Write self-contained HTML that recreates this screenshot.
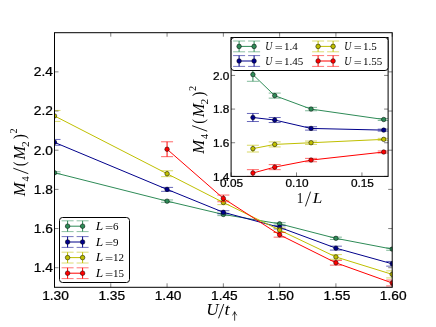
<!DOCTYPE html><html><head><meta charset="utf-8"><style>html,body{margin:0;padding:0;background:#fff}svg{display:block;will-change:transform}.s{font-family:"Liberation Sans",sans-serif;fill:#000;stroke:#000;stroke-width:0.25px}.m{font-family:"Liberation Serif",serif;fill:#000}.i{font-style:italic}</style></head><body><svg width="436" height="327" viewBox="0 0 436 327">
<rect width="436" height="327" fill="#fff"/>
<defs><clipPath id="c1"><rect x="54.5" y="32.7" width="337.7" height="254.60000000000002"/></clipPath><clipPath id="c2"><rect x="231.1" y="37.5" width="157.00000000000003" height="138.9"/></clipPath></defs>
<g clip-path="url(#c1)">
<polyline fill="none" stroke="#2e8b57" stroke-width="1" points="54.50,172.73 167.07,201.13 223.35,214.45 279.63,223.85 335.92,238.34 392.20,249.11"/>
<path d="M54.50 171.75V173.71" stroke="#2e8b57" stroke-width="1" fill="none"/>
<path d="M48.50 171.75h12M48.50 173.71h12" stroke="#2e8b57" stroke-width="0.6" fill="none"/>
<path d="M167.07 199.95V202.30" stroke="#2e8b57" stroke-width="1" fill="none"/>
<path d="M161.07 199.95h12M161.07 202.30h12" stroke="#2e8b57" stroke-width="0.6" fill="none"/>
<path d="M223.35 213.27V215.62" stroke="#2e8b57" stroke-width="1" fill="none"/>
<path d="M217.35 213.27h12M217.35 215.62h12" stroke="#2e8b57" stroke-width="0.6" fill="none"/>
<path d="M279.63 222.67V225.02" stroke="#2e8b57" stroke-width="1" fill="none"/>
<path d="M273.63 222.67h12M273.63 225.02h12" stroke="#2e8b57" stroke-width="0.6" fill="none"/>
<path d="M335.92 237.16V239.51" stroke="#2e8b57" stroke-width="1" fill="none"/>
<path d="M329.92 237.16h12M329.92 239.51h12" stroke="#2e8b57" stroke-width="0.6" fill="none"/>
<path d="M392.20 247.93V250.29" stroke="#2e8b57" stroke-width="1" fill="none"/>
<path d="M386.20 247.93h12M386.20 250.29h12" stroke="#2e8b57" stroke-width="0.6" fill="none"/>
<circle cx="54.50" cy="172.73" r="2.25" fill="#2e8b57" stroke="#000" stroke-width="0.5"/>
<circle cx="167.07" cy="201.13" r="2.25" fill="#2e8b57" stroke="#000" stroke-width="0.5"/>
<circle cx="223.35" cy="214.45" r="2.25" fill="#2e8b57" stroke="#000" stroke-width="0.5"/>
<circle cx="279.63" cy="223.85" r="2.25" fill="#2e8b57" stroke="#000" stroke-width="0.5"/>
<circle cx="335.92" cy="238.34" r="2.25" fill="#2e8b57" stroke="#000" stroke-width="0.5"/>
<circle cx="392.20" cy="249.11" r="2.25" fill="#2e8b57" stroke="#000" stroke-width="0.5"/>
</g>
<g clip-path="url(#c1)">
<polyline fill="none" stroke="#00008b" stroke-width="1" points="54.50,142.37 167.07,189.38 223.35,212.29 279.63,227.37 335.92,248.13 392.20,263.80"/>
<path d="M54.50 139.44V145.31" stroke="#00008b" stroke-width="1" fill="none"/>
<path d="M48.50 139.44h12M48.50 145.31h12" stroke="#00008b" stroke-width="0.6" fill="none"/>
<path d="M167.07 187.42V191.34" stroke="#00008b" stroke-width="1" fill="none"/>
<path d="M161.07 187.42h12M161.07 191.34h12" stroke="#00008b" stroke-width="0.6" fill="none"/>
<path d="M223.35 210.72V213.86" stroke="#00008b" stroke-width="1" fill="none"/>
<path d="M217.35 210.72h12M217.35 213.86h12" stroke="#00008b" stroke-width="0.6" fill="none"/>
<path d="M279.63 225.80V228.94" stroke="#00008b" stroke-width="1" fill="none"/>
<path d="M273.63 225.80h12M273.63 228.94h12" stroke="#00008b" stroke-width="0.6" fill="none"/>
<path d="M335.92 246.17V250.09" stroke="#00008b" stroke-width="1" fill="none"/>
<path d="M329.92 246.17h12M329.92 250.09h12" stroke="#00008b" stroke-width="0.6" fill="none"/>
<path d="M392.20 261.45V266.15" stroke="#00008b" stroke-width="1" fill="none"/>
<path d="M386.20 261.45h12M386.20 266.15h12" stroke="#00008b" stroke-width="0.6" fill="none"/>
<circle cx="54.50" cy="142.37" r="2.25" fill="#00008b" stroke="#000" stroke-width="0.5"/>
<circle cx="167.07" cy="189.38" r="2.25" fill="#00008b" stroke="#000" stroke-width="0.5"/>
<circle cx="223.35" cy="212.29" r="2.25" fill="#00008b" stroke="#000" stroke-width="0.5"/>
<circle cx="279.63" cy="227.37" r="2.25" fill="#00008b" stroke="#000" stroke-width="0.5"/>
<circle cx="335.92" cy="248.13" r="2.25" fill="#00008b" stroke="#000" stroke-width="0.5"/>
<circle cx="392.20" cy="263.80" r="2.25" fill="#00008b" stroke="#000" stroke-width="0.5"/>
</g>
<g clip-path="url(#c1)">
<polyline fill="none" stroke="#bfbf00" stroke-width="1" points="54.50,115.93 167.07,173.71 223.35,202.50 279.63,230.11 335.92,256.94 392.20,274.37"/>
<path d="M54.50 110.45V121.42" stroke="#bfbf00" stroke-width="1" fill="none"/>
<path d="M48.50 110.45h12M48.50 121.42h12" stroke="#bfbf00" stroke-width="0.6" fill="none"/>
<path d="M167.07 170.77V176.65" stroke="#bfbf00" stroke-width="1" fill="none"/>
<path d="M161.07 170.77h12M161.07 176.65h12" stroke="#bfbf00" stroke-width="0.6" fill="none"/>
<path d="M223.35 200.34V204.65" stroke="#bfbf00" stroke-width="1" fill="none"/>
<path d="M217.35 200.34h12M217.35 204.65h12" stroke="#bfbf00" stroke-width="0.6" fill="none"/>
<path d="M279.63 227.96V232.27" stroke="#bfbf00" stroke-width="1" fill="none"/>
<path d="M273.63 227.96h12M273.63 232.27h12" stroke="#bfbf00" stroke-width="0.6" fill="none"/>
<path d="M335.92 254.59V259.29" stroke="#bfbf00" stroke-width="1" fill="none"/>
<path d="M329.92 254.59h12M329.92 259.29h12" stroke="#bfbf00" stroke-width="0.6" fill="none"/>
<path d="M392.20 270.85V277.90" stroke="#bfbf00" stroke-width="1" fill="none"/>
<path d="M386.20 270.85h12M386.20 277.90h12" stroke="#bfbf00" stroke-width="0.6" fill="none"/>
<circle cx="54.50" cy="115.93" r="2.25" fill="#bfbf00" stroke="#000" stroke-width="0.5"/>
<circle cx="167.07" cy="173.71" r="2.25" fill="#bfbf00" stroke="#000" stroke-width="0.5"/>
<circle cx="223.35" cy="202.50" r="2.25" fill="#bfbf00" stroke="#000" stroke-width="0.5"/>
<circle cx="279.63" cy="230.11" r="2.25" fill="#bfbf00" stroke="#000" stroke-width="0.5"/>
<circle cx="335.92" cy="256.94" r="2.25" fill="#bfbf00" stroke="#000" stroke-width="0.5"/>
<circle cx="392.20" cy="274.37" r="2.25" fill="#bfbf00" stroke="#000" stroke-width="0.5"/>
</g>
<g clip-path="url(#c1)">
<polyline fill="none" stroke="#ff0000" stroke-width="1" points="167.07,149.23 223.35,198.39 279.63,234.81 335.92,262.82 392.20,282.99"/>
<path d="M167.07 141.79V156.67" stroke="#ff0000" stroke-width="1" fill="none"/>
<path d="M161.07 141.79h12M161.07 156.67h12" stroke="#ff0000" stroke-width="0.6" fill="none"/>
<path d="M223.35 195.06V201.72" stroke="#ff0000" stroke-width="1" fill="none"/>
<path d="M217.35 195.06h12M217.35 201.72h12" stroke="#ff0000" stroke-width="0.6" fill="none"/>
<path d="M279.63 232.46V237.16" stroke="#ff0000" stroke-width="1" fill="none"/>
<path d="M273.63 232.46h12M273.63 237.16h12" stroke="#ff0000" stroke-width="0.6" fill="none"/>
<path d="M335.92 260.47V265.17" stroke="#ff0000" stroke-width="1" fill="none"/>
<path d="M329.92 260.47h12M329.92 265.17h12" stroke="#ff0000" stroke-width="0.6" fill="none"/>
<path d="M392.20 280.05V285.93" stroke="#ff0000" stroke-width="1" fill="none"/>
<path d="M386.20 280.05h12M386.20 285.93h12" stroke="#ff0000" stroke-width="0.6" fill="none"/>
<circle cx="167.07" cy="149.23" r="2.25" fill="#ff0000" stroke="#000" stroke-width="0.5"/>
<circle cx="223.35" cy="198.39" r="2.25" fill="#ff0000" stroke="#000" stroke-width="0.5"/>
<circle cx="279.63" cy="234.81" r="2.25" fill="#ff0000" stroke="#000" stroke-width="0.5"/>
<circle cx="335.92" cy="262.82" r="2.25" fill="#ff0000" stroke="#000" stroke-width="0.5"/>
<circle cx="392.20" cy="282.99" r="2.25" fill="#ff0000" stroke="#000" stroke-width="0.5"/>
</g>
<rect x="54.5" y="32.7" width="337.7" height="254.60000000000002" fill="none" stroke="#000" stroke-width="1"/>
<path d="M54.50 287.3v-4M54.50 32.7v4" stroke="#000" stroke-width="0.5"/>
<text transform="translate(55.50,300.20) scale(1.125,1)" font-size="12.2" text-anchor="middle" class="s">1.30</text>
<path d="M110.78 287.3v-4M110.78 32.7v4" stroke="#000" stroke-width="0.5"/>
<text transform="translate(111.78,300.20) scale(1.125,1)" font-size="12.2" text-anchor="middle" class="s">1.35</text>
<path d="M167.07 287.3v-4M167.07 32.7v4" stroke="#000" stroke-width="0.5"/>
<text transform="translate(168.07,300.20) scale(1.125,1)" font-size="12.2" text-anchor="middle" class="s">1.40</text>
<path d="M223.35 287.3v-4M223.35 32.7v4" stroke="#000" stroke-width="0.5"/>
<text transform="translate(224.35,300.20) scale(1.125,1)" font-size="12.2" text-anchor="middle" class="s">1.45</text>
<path d="M279.63 287.3v-4M279.63 32.7v4" stroke="#000" stroke-width="0.5"/>
<text transform="translate(280.63,300.20) scale(1.125,1)" font-size="12.2" text-anchor="middle" class="s">1.50</text>
<path d="M335.92 287.3v-4M335.92 32.7v4" stroke="#000" stroke-width="0.5"/>
<text transform="translate(336.92,300.20) scale(1.125,1)" font-size="12.2" text-anchor="middle" class="s">1.55</text>
<path d="M392.20 287.3v-4M392.20 32.7v4" stroke="#000" stroke-width="0.5"/>
<text transform="translate(393.20,300.20) scale(1.125,1)" font-size="12.2" text-anchor="middle" class="s">1.60</text>
<path d="M54.5 267.72h4M392.2 267.72h-4" stroke="#000" stroke-width="0.5"/>
<text transform="translate(52.90,272.12) scale(1.125,1)" font-size="12.2" text-anchor="end" class="s">1.4</text>
<path d="M54.5 228.55h4M392.2 228.55h-4" stroke="#000" stroke-width="0.5"/>
<text transform="translate(52.90,232.95) scale(1.125,1)" font-size="12.2" text-anchor="end" class="s">1.6</text>
<path d="M54.5 189.38h4M392.2 189.38h-4" stroke="#000" stroke-width="0.5"/>
<text transform="translate(52.90,193.78) scale(1.125,1)" font-size="12.2" text-anchor="end" class="s">1.8</text>
<path d="M54.5 150.21h4M392.2 150.21h-4" stroke="#000" stroke-width="0.5"/>
<text transform="translate(52.90,154.61) scale(1.125,1)" font-size="12.2" text-anchor="end" class="s">2.0</text>
<path d="M54.5 111.04h4M392.2 111.04h-4" stroke="#000" stroke-width="0.5"/>
<text transform="translate(52.90,115.44) scale(1.125,1)" font-size="12.2" text-anchor="end" class="s">2.2</text>
<path d="M54.5 71.87h4M392.2 71.87h-4" stroke="#000" stroke-width="0.5"/>
<text transform="translate(52.90,76.27) scale(1.125,1)" font-size="12.2" text-anchor="end" class="s">2.4</text>
<rect x="231.1" y="37.5" width="157.00000000000003" height="138.9" fill="#fff"/>
<g clip-path="url(#c2)">
<polyline fill="none" stroke="#2e8b57" stroke-width="1" points="252.91,74.58 274.71,95.62 311.05,109.08 383.74,119.51"/>
<path d="M252.91 67.85V81.31" stroke="#2e8b57" stroke-width="1" fill="none"/>
<path d="M246.91 67.85h12M246.91 81.31h12" stroke="#2e8b57" stroke-width="0.6" fill="none"/>
<path d="M274.71 93.09V98.14" stroke="#2e8b57" stroke-width="1" fill="none"/>
<path d="M268.71 93.09h12M268.71 98.14h12" stroke="#2e8b57" stroke-width="0.6" fill="none"/>
<path d="M311.05 107.40V110.76" stroke="#2e8b57" stroke-width="1" fill="none"/>
<path d="M305.05 107.40h12M305.05 110.76h12" stroke="#2e8b57" stroke-width="0.6" fill="none"/>
<path d="M383.74 118.50V120.52" stroke="#2e8b57" stroke-width="1" fill="none"/>
<path d="M377.74 118.50h12M377.74 120.52h12" stroke="#2e8b57" stroke-width="0.6" fill="none"/>
<circle cx="252.91" cy="74.58" r="2.25" fill="#2e8b57" stroke="#000" stroke-width="0.5"/>
<circle cx="274.71" cy="95.62" r="2.25" fill="#2e8b57" stroke="#000" stroke-width="0.5"/>
<circle cx="311.05" cy="109.08" r="2.25" fill="#2e8b57" stroke="#000" stroke-width="0.5"/>
<circle cx="383.74" cy="119.51" r="2.25" fill="#2e8b57" stroke="#000" stroke-width="0.5"/>
</g>
<g clip-path="url(#c2)">
<polyline fill="none" stroke="#00008b" stroke-width="1" points="252.91,117.49 274.71,120.02 311.05,128.43 383.74,130.12"/>
<path d="M252.91 113.46V121.53" stroke="#00008b" stroke-width="1" fill="none"/>
<path d="M246.91 113.46h12M246.91 121.53h12" stroke="#00008b" stroke-width="0.6" fill="none"/>
<path d="M274.71 117.49V122.54" stroke="#00008b" stroke-width="1" fill="none"/>
<path d="M268.71 117.49h12M268.71 122.54h12" stroke="#00008b" stroke-width="0.6" fill="none"/>
<path d="M311.05 126.75V130.12" stroke="#00008b" stroke-width="1" fill="none"/>
<path d="M305.05 126.75h12M305.05 130.12h12" stroke="#00008b" stroke-width="0.6" fill="none"/>
<path d="M383.74 129.11V131.13" stroke="#00008b" stroke-width="1" fill="none"/>
<path d="M377.74 129.11h12M377.74 131.13h12" stroke="#00008b" stroke-width="0.6" fill="none"/>
<circle cx="252.91" cy="117.49" r="2.25" fill="#00008b" stroke="#000" stroke-width="0.5"/>
<circle cx="274.71" cy="120.02" r="2.25" fill="#00008b" stroke="#000" stroke-width="0.5"/>
<circle cx="311.05" cy="128.43" r="2.25" fill="#00008b" stroke="#000" stroke-width="0.5"/>
<circle cx="383.74" cy="130.12" r="2.25" fill="#00008b" stroke="#000" stroke-width="0.5"/>
</g>
<g clip-path="url(#c2)">
<polyline fill="none" stroke="#bfbf00" stroke-width="1" points="252.91,148.63 274.71,144.42 311.05,142.74 383.74,139.37"/>
<path d="M252.91 145.26V152.00" stroke="#bfbf00" stroke-width="1" fill="none"/>
<path d="M246.91 145.26h12M246.91 152.00h12" stroke="#bfbf00" stroke-width="0.6" fill="none"/>
<path d="M274.71 141.90V146.95" stroke="#bfbf00" stroke-width="1" fill="none"/>
<path d="M268.71 141.90h12M268.71 146.95h12" stroke="#bfbf00" stroke-width="0.6" fill="none"/>
<path d="M311.05 141.06V144.42" stroke="#bfbf00" stroke-width="1" fill="none"/>
<path d="M305.05 141.06h12M305.05 144.42h12" stroke="#bfbf00" stroke-width="0.6" fill="none"/>
<path d="M383.74 138.36V140.38" stroke="#bfbf00" stroke-width="1" fill="none"/>
<path d="M377.74 138.36h12M377.74 140.38h12" stroke="#bfbf00" stroke-width="0.6" fill="none"/>
<circle cx="252.91" cy="148.63" r="2.25" fill="#bfbf00" stroke="#000" stroke-width="0.5"/>
<circle cx="274.71" cy="144.42" r="2.25" fill="#bfbf00" stroke="#000" stroke-width="0.5"/>
<circle cx="311.05" cy="142.74" r="2.25" fill="#bfbf00" stroke="#000" stroke-width="0.5"/>
<circle cx="383.74" cy="139.37" r="2.25" fill="#bfbf00" stroke="#000" stroke-width="0.5"/>
</g>
<g clip-path="url(#c2)">
<polyline fill="none" stroke="#ff0000" stroke-width="1" points="252.91,173.03 274.71,167.14 311.05,160.07 383.74,152.00"/>
<path d="M252.91 169.67V176.40" stroke="#ff0000" stroke-width="1" fill="none"/>
<path d="M246.91 169.67h12M246.91 176.40h12" stroke="#ff0000" stroke-width="0.6" fill="none"/>
<path d="M274.71 164.62V169.67" stroke="#ff0000" stroke-width="1" fill="none"/>
<path d="M268.71 164.62h12M268.71 169.67h12" stroke="#ff0000" stroke-width="0.6" fill="none"/>
<path d="M311.05 158.39V161.76" stroke="#ff0000" stroke-width="1" fill="none"/>
<path d="M305.05 158.39h12M305.05 161.76h12" stroke="#ff0000" stroke-width="0.6" fill="none"/>
<path d="M383.74 150.99V153.01" stroke="#ff0000" stroke-width="1" fill="none"/>
<path d="M377.74 150.99h12M377.74 153.01h12" stroke="#ff0000" stroke-width="0.6" fill="none"/>
<circle cx="252.91" cy="173.03" r="2.25" fill="#ff0000" stroke="#000" stroke-width="0.5"/>
<circle cx="274.71" cy="167.14" r="2.25" fill="#ff0000" stroke="#000" stroke-width="0.5"/>
<circle cx="311.05" cy="160.07" r="2.25" fill="#ff0000" stroke="#000" stroke-width="0.5"/>
<circle cx="383.74" cy="152.00" r="2.25" fill="#ff0000" stroke="#000" stroke-width="0.5"/>
</g>
<rect x="231.1" y="37.5" width="157.00000000000003" height="138.9" fill="none" stroke="#000" stroke-width="1"/>
<path d="M231.10 176.4v-4M231.10 37.5v4" stroke="#000" stroke-width="0.5"/>
<text transform="translate(231.60,187.20) scale(1.125,1)" font-size="10.5" text-anchor="middle" class="s">0.05</text>
<path d="M296.52 176.4v-4M296.52 37.5v4" stroke="#000" stroke-width="0.5"/>
<text transform="translate(297.02,187.20) scale(1.125,1)" font-size="10.5" text-anchor="middle" class="s">0.10</text>
<path d="M361.93 176.4v-4M361.93 37.5v4" stroke="#000" stroke-width="0.5"/>
<text transform="translate(362.43,187.20) scale(1.125,1)" font-size="10.5" text-anchor="middle" class="s">0.15</text>
<path d="M231.1 176.40h4M388.1 176.40h-4" stroke="#000" stroke-width="0.5"/>
<text transform="translate(229.40,180.80) scale(1.125,1)" font-size="10.5" text-anchor="end" class="s">1.4</text>
<path d="M231.1 142.74h4M388.1 142.74h-4" stroke="#000" stroke-width="0.5"/>
<text transform="translate(229.40,147.14) scale(1.125,1)" font-size="10.5" text-anchor="end" class="s">1.6</text>
<path d="M231.1 109.08h4M388.1 109.08h-4" stroke="#000" stroke-width="0.5"/>
<text transform="translate(229.40,113.48) scale(1.125,1)" font-size="10.5" text-anchor="end" class="s">1.8</text>
<path d="M231.1 75.42h4M388.1 75.42h-4" stroke="#000" stroke-width="0.5"/>
<text transform="translate(229.40,79.82) scale(1.125,1)" font-size="10.5" text-anchor="end" class="s">2.0</text>
<path d="M231.1 41.76h4M388.1 41.76h-4" stroke="#000" stroke-width="0.5"/>
<rect x="59.5" y="217.5" width="70.0" height="65.0" rx="3" ry="3" fill="#fff" stroke="#000" stroke-width="1"/>
<path d="M67.6 226.2h15" stroke="#2e8b57" stroke-width="1"/>
<path d="M67.6 220.79999999999998v10.8" stroke="#2e8b57" stroke-width="1" fill="none"/>
<path d="M61.599999999999994 220.79999999999998h12M61.599999999999994 231.6h12" stroke="#2e8b57" stroke-width="0.55" fill="none"/>
<circle cx="67.6" cy="226.2" r="2.3" fill="#2e8b57" stroke="#000" stroke-width="0.5"/>
<path d="M82.6 220.79999999999998v10.8" stroke="#2e8b57" stroke-width="1" fill="none"/>
<path d="M76.6 220.79999999999998h12M76.6 231.6h12" stroke="#2e8b57" stroke-width="0.55" fill="none"/>
<circle cx="82.6" cy="226.2" r="2.3" fill="#2e8b57" stroke="#000" stroke-width="0.5"/>
<text transform="translate(95.77,229.88) scale(1.163,1)" font-size="11.52" class="m i">L</text>
<text transform="translate(104.92,230.75) scale(1.283,1)" font-size="11.20" class="m">=</text>
<text transform="translate(113.10,230.00) scale(1.0,1)" font-size="11" class="m">6</text>
<path d="M67.6 242h15" stroke="#00008b" stroke-width="1"/>
<path d="M67.6 236.6v10.8" stroke="#00008b" stroke-width="1" fill="none"/>
<path d="M61.599999999999994 236.6h12M61.599999999999994 247.4h12" stroke="#00008b" stroke-width="0.55" fill="none"/>
<circle cx="67.6" cy="242" r="2.3" fill="#00008b" stroke="#000" stroke-width="0.5"/>
<path d="M82.6 236.6v10.8" stroke="#00008b" stroke-width="1" fill="none"/>
<path d="M76.6 236.6h12M76.6 247.4h12" stroke="#00008b" stroke-width="0.55" fill="none"/>
<circle cx="82.6" cy="242" r="2.3" fill="#00008b" stroke="#000" stroke-width="0.5"/>
<text transform="translate(95.77,245.68) scale(1.163,1)" font-size="11.52" class="m i">L</text>
<text transform="translate(104.92,246.55) scale(1.283,1)" font-size="11.20" class="m">=</text>
<text transform="translate(113.10,245.80) scale(1.0,1)" font-size="11" class="m">9</text>
<path d="M67.6 257.6h15" stroke="#bfbf00" stroke-width="1"/>
<path d="M67.6 252.20000000000002v10.8" stroke="#bfbf00" stroke-width="1" fill="none"/>
<path d="M61.599999999999994 252.20000000000002h12M61.599999999999994 263.0h12" stroke="#bfbf00" stroke-width="0.55" fill="none"/>
<circle cx="67.6" cy="257.6" r="2.3" fill="#bfbf00" stroke="#000" stroke-width="0.5"/>
<path d="M82.6 252.20000000000002v10.8" stroke="#bfbf00" stroke-width="1" fill="none"/>
<path d="M76.6 252.20000000000002h12M76.6 263.0h12" stroke="#bfbf00" stroke-width="0.55" fill="none"/>
<circle cx="82.6" cy="257.6" r="2.3" fill="#bfbf00" stroke="#000" stroke-width="0.5"/>
<text transform="translate(95.77,261.28) scale(1.163,1)" font-size="11.52" class="m i">L</text>
<text transform="translate(104.92,262.15) scale(1.283,1)" font-size="11.20" class="m">=</text>
<text transform="translate(113.10,261.40) scale(1.0,1)" font-size="11" class="m">12</text>
<path d="M67.6 273.2h15" stroke="#ff0000" stroke-width="1"/>
<path d="M67.6 267.8v10.8" stroke="#ff0000" stroke-width="1" fill="none"/>
<path d="M61.599999999999994 267.8h12M61.599999999999994 278.59999999999997h12" stroke="#ff0000" stroke-width="0.55" fill="none"/>
<circle cx="67.6" cy="273.2" r="2.3" fill="#ff0000" stroke="#000" stroke-width="0.5"/>
<path d="M82.6 267.8v10.8" stroke="#ff0000" stroke-width="1" fill="none"/>
<path d="M76.6 267.8h12M76.6 278.59999999999997h12" stroke="#ff0000" stroke-width="0.55" fill="none"/>
<circle cx="82.6" cy="273.2" r="2.3" fill="#ff0000" stroke="#000" stroke-width="0.5"/>
<text transform="translate(95.77,276.88) scale(1.163,1)" font-size="11.52" class="m i">L</text>
<text transform="translate(104.92,277.75) scale(1.283,1)" font-size="11.20" class="m">=</text>
<text transform="translate(113.10,277.00) scale(1.0,1)" font-size="11" class="m">15</text>
<rect x="231.1" y="37.5" width="157.00000000000003" height="33.0" rx="3" ry="3" fill="#fff" stroke="#000" stroke-width="1"/>
<path d="M239.1 46.4h15" stroke="#2e8b57" stroke-width="1"/>
<path d="M239.1 41.0v10.8" stroke="#2e8b57" stroke-width="1" fill="none"/>
<path d="M233.1 41.0h12M233.1 51.8h12" stroke="#2e8b57" stroke-width="0.55" fill="none"/>
<circle cx="239.1" cy="46.4" r="2.3" fill="#2e8b57" stroke="#000" stroke-width="0.5"/>
<path d="M254.1 41.0v10.8" stroke="#2e8b57" stroke-width="1" fill="none"/>
<path d="M248.1 41.0h12M248.1 51.8h12" stroke="#2e8b57" stroke-width="0.55" fill="none"/>
<circle cx="254.1" cy="46.4" r="2.3" fill="#2e8b57" stroke="#000" stroke-width="0.5"/>
<text transform="translate(265.31,50.17) scale(0.847,1)" font-size="11.64" class="m i">U</text>
<text transform="translate(274.63,50.95) scale(1.265,1)" font-size="11.20" class="m">=</text>
<text transform="translate(284.00,50.20) scale(1.0,1)" font-size="11" class="m">1.4</text>
<path d="M239.1 61h15" stroke="#00008b" stroke-width="1"/>
<path d="M239.1 55.6v10.8" stroke="#00008b" stroke-width="1" fill="none"/>
<path d="M233.1 55.6h12M233.1 66.4h12" stroke="#00008b" stroke-width="0.55" fill="none"/>
<circle cx="239.1" cy="61" r="2.3" fill="#00008b" stroke="#000" stroke-width="0.5"/>
<path d="M254.1 55.6v10.8" stroke="#00008b" stroke-width="1" fill="none"/>
<path d="M248.1 55.6h12M248.1 66.4h12" stroke="#00008b" stroke-width="0.55" fill="none"/>
<circle cx="254.1" cy="61" r="2.3" fill="#00008b" stroke="#000" stroke-width="0.5"/>
<text transform="translate(265.31,64.77) scale(0.847,1)" font-size="11.64" class="m i">U</text>
<text transform="translate(274.63,65.55) scale(1.265,1)" font-size="11.20" class="m">=</text>
<text transform="translate(284.00,64.80) scale(1.0,1)" font-size="11" class="m">1.45</text>
<path d="M318.1 46.4h15" stroke="#bfbf00" stroke-width="1"/>
<path d="M318.1 41.0v10.8" stroke="#bfbf00" stroke-width="1" fill="none"/>
<path d="M312.1 41.0h12M312.1 51.8h12" stroke="#bfbf00" stroke-width="0.55" fill="none"/>
<circle cx="318.1" cy="46.4" r="2.3" fill="#bfbf00" stroke="#000" stroke-width="0.5"/>
<path d="M333.1 41.0v10.8" stroke="#bfbf00" stroke-width="1" fill="none"/>
<path d="M327.1 41.0h12M327.1 51.8h12" stroke="#bfbf00" stroke-width="0.55" fill="none"/>
<circle cx="333.1" cy="46.4" r="2.3" fill="#bfbf00" stroke="#000" stroke-width="0.5"/>
<text transform="translate(344.31,50.17) scale(0.847,1)" font-size="11.64" class="m i">U</text>
<text transform="translate(353.63,50.95) scale(1.265,1)" font-size="11.20" class="m">=</text>
<text transform="translate(363.00,50.20) scale(1.0,1)" font-size="11" class="m">1.5</text>
<path d="M318.1 61h15" stroke="#ff0000" stroke-width="1"/>
<path d="M318.1 55.6v10.8" stroke="#ff0000" stroke-width="1" fill="none"/>
<path d="M312.1 55.6h12M312.1 66.4h12" stroke="#ff0000" stroke-width="0.55" fill="none"/>
<circle cx="318.1" cy="61" r="2.3" fill="#ff0000" stroke="#000" stroke-width="0.5"/>
<path d="M333.1 55.6v10.8" stroke="#ff0000" stroke-width="1" fill="none"/>
<path d="M327.1 55.6h12M327.1 66.4h12" stroke="#ff0000" stroke-width="0.55" fill="none"/>
<circle cx="333.1" cy="61" r="2.3" fill="#ff0000" stroke="#000" stroke-width="0.5"/>
<text transform="translate(344.31,64.77) scale(0.847,1)" font-size="11.64" class="m i">U</text>
<text transform="translate(353.63,65.55) scale(1.265,1)" font-size="11.20" class="m">=</text>
<text transform="translate(363.00,64.80) scale(1.0,1)" font-size="11" class="m">1.55</text>
<text transform="translate(206.36,315.08) scale(1.071,1)" font-size="15.97" class="m i">U</text>
<path d="M218.5 318.3L223.8 304" stroke="#000" stroke-width="0.9" fill="none"/>
<text transform="translate(224.55,315.24) scale(1.143,1)" font-size="16.49" class="m i">t</text>
<path d="M234.65 320.7V312M232.2 315.3Q234.2 314.2 234.65 311.6Q235.1 314.2 237.1 315.3" stroke="#000" stroke-width="0.75" fill="none"/>
<g transform="translate(25.4,197) rotate(-90) scale(1)">
<text transform="translate(0.73,-0.07) scale(0.991,1)" font-size="16.82" class="m i">M</text>
<text transform="translate(15.50,3.30) scale(1.011,1)" font-size="10.30" class="m">4</text>
<path d="M23.3 2.9L28.8 -12.1" stroke="#000" stroke-width="0.9" fill="none"/>
<text transform="translate(30.72,-0.54) scale(0.898,1)" font-size="16.09" class="m">(</text>
<text transform="translate(37.13,-0.07) scale(0.978,1)" font-size="16.82" class="m i">M</text>
<text transform="translate(50.04,3.30) scale(1.129,1)" font-size="10.15" class="m">2</text>
<text transform="translate(57.96,-0.54) scale(0.909,1)" font-size="16.09" class="m">)</text>
<text transform="translate(63.39,-8.10) scale(1.009,1)" font-size="10.15" class="m">2</text>
</g>
<g transform="translate(204.3,154.5) rotate(-90) scale(1)">
<text transform="translate(0.73,-0.07) scale(0.991,1)" font-size="16.82" class="m i">M</text>
<text transform="translate(15.50,3.30) scale(1.011,1)" font-size="10.30" class="m">4</text>
<path d="M23.3 2.9L28.8 -12.1" stroke="#000" stroke-width="0.9" fill="none"/>
<text transform="translate(30.72,-0.54) scale(0.898,1)" font-size="16.09" class="m">(</text>
<text transform="translate(37.13,-0.07) scale(0.978,1)" font-size="16.82" class="m i">M</text>
<text transform="translate(50.04,3.30) scale(1.129,1)" font-size="10.15" class="m">2</text>
<text transform="translate(57.96,-0.54) scale(0.909,1)" font-size="16.09" class="m">)</text>
<text transform="translate(63.39,-8.10) scale(1.009,1)" font-size="10.15" class="m">2</text>
</g>
<text transform="translate(296.76,203.10) scale(0.870,1)" font-size="15.00" class="m">1</text>
<path d="M305.4 206.4L310.6 191.6" stroke="#000" stroke-width="0.85" fill="none"/>
<text transform="translate(312.64,202.95) scale(1.145,1)" font-size="15.00" class="m i">L</text>
</svg></body></html>
